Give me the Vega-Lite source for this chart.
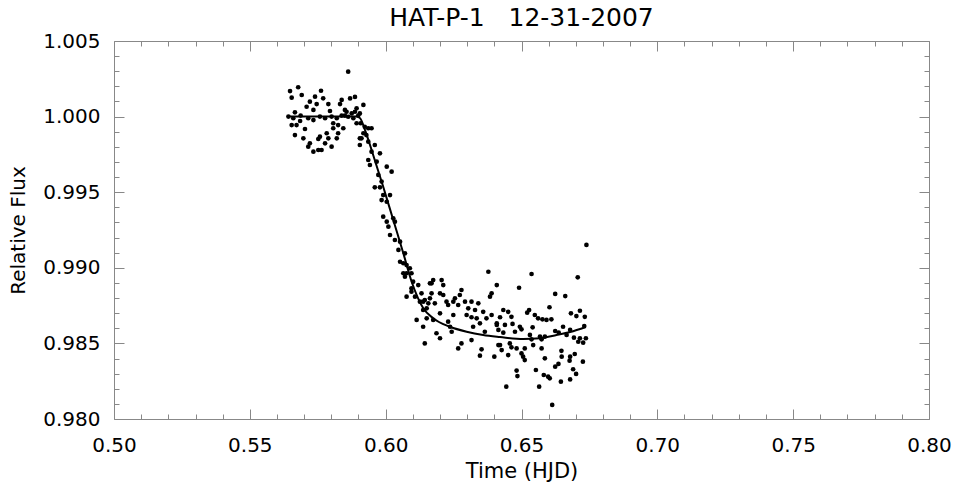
{
  "$schema": "https://vega.github.io/schema/vega-lite/v6.json",
  "width": 815,
  "height": 378,
  "autosize": {"type": "none"},
  "padding": {"left": 114, "top": 41, "right": 28, "bottom": 70},
  "background": "white",
  "config": {
    "view": {"stroke": "#888", "strokeWidth": 1},
    "font": "DejaVu Sans",
    "axis": {
      "domain": false,
      "grid": false,
      "labelFont": "DejaVu Sans",
      "labelFontSize": 20,
      "labelColor": "black",
      "titleFont": "DejaVu Sans",
      "titleFontSize": 20,
      "titleFontWeight": "normal",
      "titleColor": "black",
      "tickColor": "#888",
      "tickWidth": 1,
      "labelFlush": false,
      "labelOverlap": false
    }
  },
  "title": {"text": "HAT-P-1\u00a0\u00a0\u00a012-31-2007", "fontSize": 25, "font": "DejaVu Sans", "fontWeight": "normal", "offset": 0, "color": "black"},
  "datasets": {
    "obs": [
      {"t":0.5862,"f":1.00297},{"t":0.5678,"f":1.00194},{"t":0.5648,"f":1.00169},{"t":0.5762,"f":1.00171},{"t":0.5691,"f":1.00143},{"t":0.5654,"f":1.00125},{"t":0.5740,"f":1.00132},{"t":0.5770,"f":1.00121},{"t":0.5838,"f":1.00110},{"t":0.5887,"f":1.00130},{"t":0.5869,"f":1.00120},{"t":0.5721,"f":1.00099},{"t":0.5746,"f":1.00083},{"t":0.5789,"f":1.00083},{"t":0.5832,"f":1.00083},{"t":0.5709,"f":1.00065},{"t":0.5918,"f":1.00077},{"t":0.5893,"f":1.00055},{"t":0.5734,"f":1.00044},{"t":0.5795,"f":1.00037},{"t":0.5666,"f":1.00028},{"t":0.5856,"f":1.00032},{"t":0.5875,"f":1.00021},{"t":0.5905,"f":1.00021},{"t":0.5642,"f":1.00000},{"t":0.5687,"f":1.00007},{"t":0.5758,"f":1.00000},{"t":0.5801,"f":1.00000},{"t":0.5850,"f":1.00007},{"t":0.5862,"f":0.99999},{"t":0.5660,"f":0.99989},{"t":0.5715,"f":0.99989},{"t":0.5734,"f":0.99977},{"t":0.5777,"f":0.99989},{"t":0.5820,"f":0.99989},{"t":0.5881,"f":0.99989},{"t":0.5685,"f":0.99971},{"t":0.5807,"f":0.99956},{"t":0.5893,"f":0.99956},{"t":0.5654,"f":0.99944},{"t":0.5672,"f":0.99944},{"t":0.5825,"f":0.99944},{"t":0.5703,"f":0.99918},{"t":0.5807,"f":0.99923},{"t":0.5923,"f":0.99933},{"t":0.5783,"f":0.99890},{"t":0.5825,"f":0.99890},{"t":0.5666,"f":0.99878},{"t":0.5758,"f":0.99867},{"t":0.5697,"f":0.99856},{"t":0.5752,"f":0.99852},{"t":0.5789,"f":0.99856},{"t":0.5820,"f":0.99856},{"t":0.5905,"f":0.99856},{"t":0.5721,"f":0.99823},{"t":0.5777,"f":0.99823},{"t":0.5801,"f":0.99801},{"t":0.5905,"f":0.99812},{"t":0.5715,"f":0.99801},{"t":0.5752,"f":0.99779},{"t":0.5764,"f":0.99779},{"t":0.5734,"f":0.99768},{"t":0.5929,"f":0.99878},{"t":0.5936,"f":0.99834},
      {"t":0.5850,"f":1.00044},{"t":0.5887,"f":1.00032},{"t":0.5899,"f":1.00007},{"t":0.5838,"f":1.00007},{"t":0.5844,"f":0.99923},{"t":0.5908,"f":0.99956},{"t":0.5918,"f":0.99890},{"t":0.5936,"f":0.99923},{"t":0.5948,"f":0.99923},{"t":0.5911,"f":0.99856},{"t":0.5960,"f":0.99812},{"t":0.5948,"f":0.99768},{"t":0.5979,"f":0.99757},{"t":0.5936,"f":0.99713},{"t":0.5967,"f":0.99702},{"t":0.5942,"f":0.99680},{"t":0.6004,"f":0.99669},{"t":0.6022,"f":0.99636},{"t":0.5973,"f":0.99614},{"t":0.5985,"f":0.99570},{"t":0.5960,"f":0.99532},{"t":0.5979,"f":0.99532},{"t":0.5991,"f":0.99481},{"t":0.6016,"f":0.99481},{"t":0.5985,"f":0.99448},{"t":0.6004,"f":0.99437},{"t":0.5991,"f":0.99338},{"t":0.6028,"f":0.99327},{"t":0.6034,"f":0.99305},{"t":0.6004,"f":0.99305},{"t":0.6010,"f":0.99272},{"t":0.6016,"f":0.99217},{"t":0.6034,"f":0.99184},{"t":0.6053,"f":0.99173},{"t":0.6047,"f":0.99118},{"t":0.6071,"f":0.99096},{"t":0.6053,"f":0.99040},{"t":0.6077,"f":0.99018},{"t":0.6065,"f":0.98964},{"t":0.6089,"f":0.98997},{"t":0.6095,"f":0.98964},{"t":0.6071,"f":0.98941},{"t":0.6101,"f":0.98908},{"t":0.6120,"f":0.98886},{"t":0.6095,"f":0.98864},{"t":0.6132,"f":0.98831},{"t":0.6077,"f":0.98809},{"t":0.6108,"f":0.98809},{"t":0.6163,"f":0.98897},{"t":0.6144,"f":0.98787},{"t":0.6126,"f":0.98776},{"t":0.6157,"f":0.98765},{"t":0.6138,"f":0.98721},{"t":0.6151,"f":0.98666},{"t":0.6114,"f":0.98655},{"t":0.6138,"f":0.98610},{"t":0.6065,"f":0.99030},{"t":0.6077,"f":0.98964},{"t":0.6095,"f":0.98842},
      {"t":0.6378,"f":0.98974},{"t":0.6175,"f":0.98919},{"t":0.6169,"f":0.98897},{"t":0.6206,"f":0.98919},{"t":0.6212,"f":0.98886},{"t":0.6409,"f":0.98886},{"t":0.6279,"f":0.98853},{"t":0.6169,"f":0.98831},{"t":0.6200,"f":0.98831},{"t":0.6212,"f":0.98820},{"t":0.6390,"f":0.98831},{"t":0.6273,"f":0.98820},{"t":0.6255,"f":0.98798},{"t":0.6163,"f":0.98798},{"t":0.6384,"f":0.98809},{"t":0.6224,"f":0.98776},{"t":0.6138,"f":0.98776},{"t":0.6181,"f":0.98765},{"t":0.6249,"f":0.98776},{"t":0.6292,"f":0.98776},{"t":0.6316,"f":0.98776},{"t":0.6341,"f":0.98765},{"t":0.6230,"f":0.98754},{"t":0.6267,"f":0.98754},{"t":0.6151,"f":0.98732},{"t":0.6304,"f":0.98732},{"t":0.6329,"f":0.98721},{"t":0.6359,"f":0.98709},{"t":0.6200,"f":0.98699},{"t":0.6249,"f":0.98688},{"t":0.6298,"f":0.98688},{"t":0.6390,"f":0.98688},{"t":0.6316,"f":0.98673},{"t":0.6335,"f":0.98666},{"t":0.6371,"f":0.98666},{"t":0.6175,"f":0.98655},{"t":0.6347,"f":0.98633},{"t":0.6230,"f":0.98644},{"t":0.6237,"f":0.98610},{"t":0.6322,"f":0.98610},{"t":0.6409,"f":0.98622},{"t":0.6243,"f":0.98577},{"t":0.6365,"f":0.98577},{"t":0.6187,"f":0.98567},{"t":0.6200,"f":0.98534},{"t":0.6316,"f":0.98522},{"t":0.6279,"f":0.98500},{"t":0.6144,"f":0.98500},{"t":0.6415,"f":0.98489},{"t":0.6267,"f":0.98467},{"t":0.6353,"f":0.98461},{"t":0.6347,"f":0.98419},{"t":0.6400,"f":0.98412},
      {"t":0.6739,"f":0.99151},{"t":0.6537,"f":0.98959},{"t":0.6707,"f":0.98937},{"t":0.6491,"f":0.98868},{"t":0.6624,"f":0.98827},{"t":0.6661,"f":0.98813},{"t":0.6603,"f":0.98739},{"t":0.6433,"f":0.98721},{"t":0.6451,"f":0.98709},{"t":0.6528,"f":0.98721},{"t":0.6682,"f":0.98699},{"t":0.6715,"f":0.98716},{"t":0.6521,"f":0.98703},{"t":0.6463,"f":0.98676},{"t":0.6421,"f":0.98673},{"t":0.6549,"f":0.98688},{"t":0.6561,"f":0.98666},{"t":0.6577,"f":0.98659},{"t":0.6592,"f":0.98655},{"t":0.6610,"f":0.98659},{"t":0.6702,"f":0.98681},{"t":0.6733,"f":0.98676},{"t":0.6409,"f":0.98633},{"t":0.6439,"f":0.98622},{"t":0.6467,"f":0.98629},{"t":0.6494,"f":0.98610},{"t":0.6500,"f":0.98593},{"t":0.6541,"f":0.98606},{"t":0.6653,"f":0.98610},{"t":0.6731,"f":0.98615},{"t":0.6679,"f":0.98589},{"t":0.6415,"f":0.98589},{"t":0.6433,"f":0.98571},{"t":0.6476,"f":0.98577},{"t":0.6624,"f":0.98582},{"t":0.6637,"f":0.98571},{"t":0.6531,"f":0.98556},{"t":0.6568,"f":0.98545},{"t":0.6586,"f":0.98545},{"t":0.6666,"f":0.98556},{"t":0.6693,"f":0.98538},{"t":0.6715,"f":0.98534},{"t":0.6737,"f":0.98534},{"t":0.6537,"f":0.98527},{"t":0.6574,"f":0.98527},{"t":0.6727,"f":0.98505},{"t":0.6709,"f":0.98511},{"t":0.6457,"f":0.98500},{"t":0.6543,"f":0.98489},{"t":0.6421,"f":0.98489},{"t":0.6463,"f":0.98474},{"t":0.6482,"f":0.98467},{"t":0.6512,"f":0.98467},{"t":0.6574,"f":0.98467},{"t":0.6427,"f":0.98456},{"t":0.6647,"f":0.98451},{"t":0.6500,"f":0.98434},{"t":0.6451,"f":0.98423},{"t":0.6696,"f":0.98430},{"t":0.6506,"f":0.98412},{"t":0.6586,"f":0.98401},{"t":0.6648,"f":0.98412},{"t":0.6679,"f":0.98412},{"t":0.6512,"f":0.98390},{"t":0.6677,"f":0.98386},{"t":0.6726,"f":0.98379},{"t":0.6636,"f":0.98364},{"t":0.6624,"f":0.98346},{"t":0.6553,"f":0.98324},{"t":0.6690,"f":0.98329},{"t":0.6482,"f":0.98320},{"t":0.6701,"f":0.98298},{"t":0.6485,"f":0.98284},{"t":0.6582,"f":0.98291},{"t":0.6598,"f":0.98280},{"t":0.6604,"f":0.98269},{"t":0.6679,"f":0.98262},{"t":0.6645,"f":0.98247},{"t":0.6444,"f":0.98214},{"t":0.6565,"f":0.98214},{"t":0.6613,"f":0.98093}
    ],
    "model": [
      {"t":0.5644,"f":1.00000},{"t":0.5891,"f":1.00000},{"t":0.5905,"f":0.99991},{"t":0.5924,"f":0.99911},{"t":0.5954,"f":0.99746},{"t":0.5991,"f":0.99536},{"t":0.6028,"f":0.99316},{"t":0.6065,"f":0.99096},{"t":0.6096,"f":0.98906},{"t":0.6119,"f":0.98800},{"t":0.6138,"f":0.98734},{"t":0.6175,"f":0.98666},{"t":0.6237,"f":0.98610},{"t":0.6298,"f":0.98577},{"t":0.6359,"f":0.98555},{"t":0.6421,"f":0.98542},{"t":0.6506,"f":0.98529},{"t":0.6568,"f":0.98534},{"t":0.6629,"f":0.98555},{"t":0.6679,"f":0.98575},{"t":0.6737,"f":0.98608}
    ]
  },
  "layer": [
    {
      "data": {"name": "obs"},
      "mark": {"type": "circle", "size": 22, "color": "black", "opacity": 1},
      "encoding": {
        "x": {"field": "t", "type": "quantitative", "scale": {"domain": [0.5, 0.8], "nice": false, "zero": false},
          "axis": {"orient": "bottom", "values": [0.5, 0.55, 0.6, 0.65, 0.7, 0.75, 0.8], "format": ".2f", "tickSize": -10, "labelPadding": 26, "title": "Time (HJD)", "titlePadding": 5, "titleFontSize": 21}},
        "y": {"field": "f", "type": "quantitative", "scale": {"domain": [0.98, 1.005], "nice": false, "zero": false},
          "axis": {"orient": "left", "values": [0.98, 0.985, 0.99, 0.995, 1.0, 1.005], "format": ".3f", "tickSize": -10, "labelPadding": 24, "title": "Relative Flux", "titlePadding": 14}}
      }
    },
    {
      "data": {"name": "model"},
      "mark": {"type": "line", "color": "black", "strokeWidth": 2, "interpolate": "monotone"},
      "encoding": {
        "x": {"field": "t", "type": "quantitative",
          "axis": {"orient": "top", "values": [0.5, 0.55, 0.6, 0.65, 0.7, 0.75, 0.8], "labels": false, "tickSize": -10, "title": null}},
        "y": {"field": "f", "type": "quantitative",
          "axis": {"orient": "right", "values": [0.98, 0.985, 0.99, 0.995, 1.0, 1.005], "labels": false, "tickSize": -10, "title": null}}
      }
    },
    {
      "data": {"name": "model"},
      "mark": {"type": "point", "opacity": 0},
      "encoding": {
        "x": {"field": "t", "type": "quantitative",
          "axis": {"orient": "bottom", "values": [0.51,0.52,0.53,0.54,0.56,0.57,0.58,0.59,0.61,0.62,0.63,0.64,0.66,0.67,0.68,0.69,0.71,0.72,0.73,0.74,0.76,0.77,0.78,0.79], "labels": false, "tickSize": -5, "title": null}},
        "y": {"field": "f", "type": "quantitative",
          "axis": {"orient": "left", "values": [0.981,0.982,0.983,0.984,0.986,0.987,0.988,0.989,0.991,0.992,0.993,0.994,0.996,0.997,0.998,0.999,1.001,1.002,1.003,1.004], "labels": false, "tickSize": -5, "title": null}}
      }
    },
    {
      "data": {"name": "model"},
      "mark": {"type": "point", "opacity": 0},
      "encoding": {
        "x": {"field": "t", "type": "quantitative",
          "axis": {"orient": "top", "values": [0.51,0.52,0.53,0.54,0.56,0.57,0.58,0.59,0.61,0.62,0.63,0.64,0.66,0.67,0.68,0.69,0.71,0.72,0.73,0.74,0.76,0.77,0.78,0.79], "labels": false, "tickSize": -5, "title": null}},
        "y": {"field": "f", "type": "quantitative",
          "axis": {"orient": "right", "values": [0.981,0.982,0.983,0.984,0.986,0.987,0.988,0.989,0.991,0.992,0.993,0.994,0.996,0.997,0.998,0.999,1.001,1.002,1.003,1.004], "labels": false, "tickSize": -5, "title": null}}
      }
    }
  ],
  "resolve": {"axis": {"x": "independent", "y": "independent"}}
}
